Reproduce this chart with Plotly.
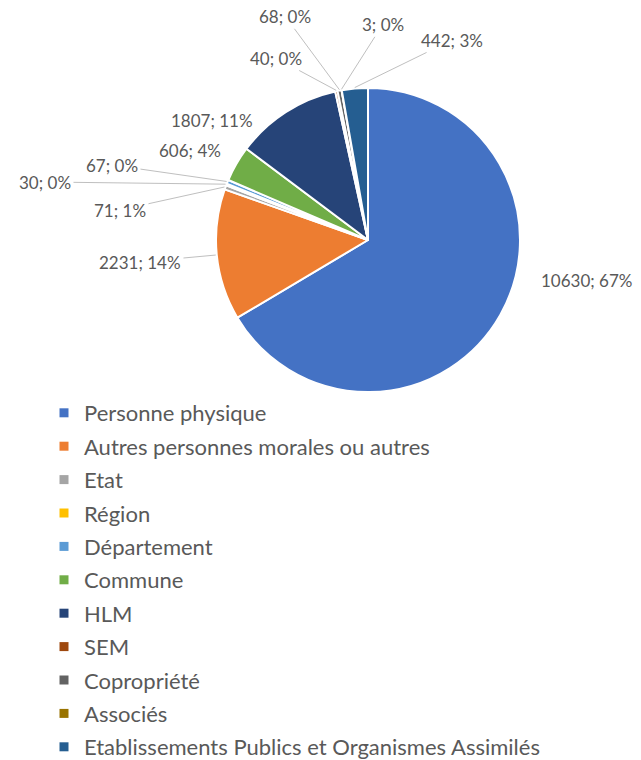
import math
import plotly.graph_objects as go

# ---------------- data ----------------
categories = [
    "Personne physique",
    "Autres personnes morales ou autres",
    "Etat",
    "Région",
    "Département",
    "Commune",
    "HLM",
    "SEM",
    "Copropriété",
    "Associés",
    "Etablissements Publics et Organismes Assimilés",
]
values = [10630, 2231, 71, 30, 67, 606, 1807, 40, 68, 3, 442]
colors = [
    "#4472C4", "#ED7D31", "#A5A5A5", "#FFC000", "#5B9BD5", "#70AD47",
    "#264478", "#9E480E", "#636363", "#997300", "#255E91",
]

# ---------------- layout constants ----------------
W, H = 641, 760
CX, CY, R = 368, 240, 152          # pie centre / radius in pixels
# label text centres (pixels) and whether a leader line is drawn
label_pos = [(586, 280), (140, 262), (120, 210), (45, 182), (112, 165),
             (190, 150), (212, 120), (276, 58), (285, 16), (383, 24), (452, 40)]
leader = [False, True, True, True, True, False, False, True, True, True, True]

# percentages rounded so they sum to 100 (largest remainder, like Excel)
total = sum(values)
raw = [100.0 * v / total for v in values]
pct = [math.floor(r) for r in raw]
rest = 100 - sum(pct)
order = sorted(range(len(raw)), key=lambda i: raw[i] - pct[i], reverse=True)
for i in order[:rest]:
    pct[i] += 1

fig = go.Figure()
fig.add_trace(go.Pie(
    labels=categories, values=values, sort=False, direction="clockwise",
    rotation=0, textinfo="none", showlegend=False,
    marker=dict(colors=colors, line=dict(color="white", width=2)),
    domain=dict(x=[(CX - R) / W, (CX + R) / W], y=[1 - (CY + R) / H, 1 - (CY - R) / H]),
    hoverinfo="label+value+percent",
))

# legend entries (one group each so spacing can match)
for name, col in zip(categories, colors):
    fig.add_trace(go.Scatter(
        x=[None], y=[None], mode="markers", name=name, legendgroup=name,
        marker=dict(symbol="square", size=9, color=col), hoverinfo="skip",
    ))

annotations = []
cum = 0.0
for i, v in enumerate(values):
    mid = (cum + v / 2) / total * 2 * math.pi
    cum += v
    ex = CX + (R + 1) * math.sin(mid)
    ey = CY - (R + 1) * math.cos(mid)
    lx, ly = label_pos[i]
    txt = f"{v}; {pct[i]}%"
    if leader[i]:
        annotations.append(dict(
            xref="paper", yref="paper", x=ex / W, y=1 - ey / H,
            axref="pixel", ayref="pixel", ax=lx - ex, ay=ly - ey,
            text=txt, showarrow=True, arrowhead=0, arrowwidth=1,
            arrowcolor="#BFBFBF", standoff=0, startstandoff=1,
            font=dict(family="Lato", size=17, color="#595959"),
        ))
    else:
        annotations.append(dict(
            xref="paper", yref="paper", x=lx / W, y=1 - ly / H,
            xanchor="center", yanchor="middle",
            text=txt, showarrow=False,
            font=dict(family="Lato", size=17, color="#595959"),
        ))

fig.update_layout(
    width=W, height=H,
    margin=dict(l=0, r=0, t=0, b=0, autoexpand=False),
    paper_bgcolor="white", plot_bgcolor="white",
    xaxis=dict(visible=False), yaxis=dict(visible=False),
    annotations=annotations,
    showlegend=True,
    legend=dict(
        x=44 / W, y=1 - 392 / H, xanchor="left", yanchor="top",
        font=dict(family="Lato", size=22, color="#595959"),
        tracegroupgap=1.8, traceorder="grouped", bgcolor="rgba(0,0,0,0)",
    ),
    font=dict(family="Lato"),
)

fig.write_html(
    "out.html",
    config={"displayModeBar": False},
    post_script="document.body.style.margin='0';document.body.style.overflow='hidden';",
)
